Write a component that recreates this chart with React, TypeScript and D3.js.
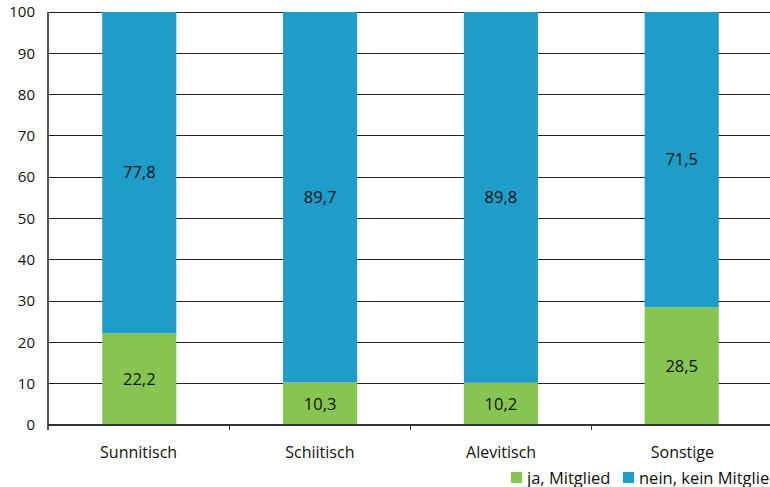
import React from "react";
import * as d3 from "d3";

const categories = ["Sunnitisch", "Schiitisch", "Alevitisch", "Sonstige"];
const jaValues = [22.2, 10.3, 10.2, 28.5];
const neinValues = [77.8, 89.7, 89.8, 71.5];
const yTicks = [0, 10, 20, 30, 40, 50, 60, 70, 80, 90, 100];
const seriesNames = ["ja, Mitglied", "nein, kein Mitglied"];
const colors = ["#86c551", "#1f9dc9"];

const W = 770, H = 487;
const left = 48, right = 773, top = 12, bottom = 425;
const font = "'Open Sans', sans-serif";

export default function App() {
  const x = d3.scaleBand<string>().domain(categories).range([left, right]).paddingInner(0.59).paddingOuter(0.3);
  const xb = d3.scaleBand<string>().domain(categories).range([left, right]);
  const y = d3.scaleLinear().domain([0, 100]).range([bottom, top]);
  const fmt = (v: number) => v.toFixed(1).replace(".", ",");

  return (
    <svg width={W} height={H} style={{ position: "absolute", left: 0, top: 0, background: "#fff" }}>
      {yTicks.map((t) => (
        <g key={t}>
          <line x1={left} x2={W} y1={y(t)} y2={y(t)} stroke="#222" strokeWidth={1} shapeRendering="crispEdges" />
          <text x={35} y={y(t)} dy="0.35em" textAnchor="end" fontFamily={font} fontSize={15} fill="#111">{t}</text>
        </g>
      ))}
      {categories.map((c, i) => {
        const bx = x(c)!;
        const bw = x.bandwidth();
        const j = jaValues[i];
        const n = neinValues[i];
        return (
          <g key={c}>
            <rect x={bx} width={bw} y={y(j)} height={y(0) - y(j)} fill={colors[0]} />
            <rect x={bx} width={bw} y={y(j + n)} height={y(j) - y(j + n)} fill={colors[1]} />
            <text x={bx + bw / 2} y={y(j / 2)} dy="0.35em" textAnchor="middle" fontFamily={font} fontSize={16.5} fill="#111">{fmt(j)}</text>
            <text x={bx + bw / 2} y={y(j + n / 2)} dy="0.35em" textAnchor="middle" fontFamily={font} fontSize={16.5} fill="#111">{fmt(n)}</text>
            <text x={xb(c)! + xb.bandwidth() / 2} y={452} dy="0.35em" textAnchor="middle" fontFamily={font} fontSize={16} fill="#111">{c}</text>
          </g>
        );
      })}
      <line x1={left} x2={left} y1={top} y2={bottom + 5} stroke="#555" strokeWidth={1.2} shapeRendering="crispEdges" />
      <line x1={left} x2={W} y1={bottom} y2={bottom} stroke="#333" strokeWidth={1.2} shapeRendering="crispEdges" />
      {categories.slice(1).map((c) => (
        <line key={c} x1={xb(c)!} x2={xb(c)!} y1={bottom} y2={bottom + 5} stroke="#333" strokeWidth={1} shapeRendering="crispEdges" />
      ))}
      {seriesNames.map((s, i) => {
        const lx = i === 0 ? 511 : 623;
        return (
          <g key={s}>
            <rect x={lx} y={472} width={11} height={11} fill={colors[i]} />
            <text x={lx + 16} y={478} dy="0.35em" fontFamily={font} fontSize={16.5} fill="#111">{s}</text>
          </g>
        );
      })}
    </svg>
  );
}
